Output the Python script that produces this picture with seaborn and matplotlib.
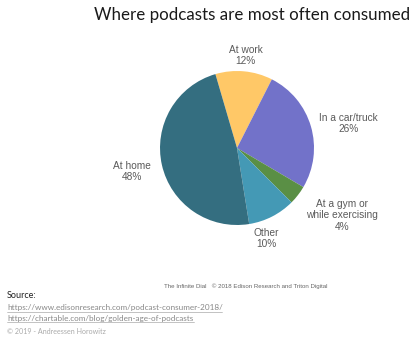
import numpy as np
import matplotlib
matplotlib.use("Agg")
import matplotlib.pyplot as plt
import seaborn as sns

categories = ["At work", "In a car/truck", "At a gym or\nwhile exercising", "Other", "At home"]
values = [12, 26, 4, 10, 48]
colors = ["#FFC867", "#7272C9", "#5A8F45", "#4499B5", "#346E80"]
label_dist = [1.21, 1.48, 1.62, 1.24, 1.40]
label_shift = [0, -4, 5, -9, 0]  # angular tweak in degrees

sns.set_theme(style="white")
plt.rcParams['font.family'] = ['Liberation Sans', 'DejaVu Sans']

fig = plt.figure(figsize=(4.19, 3.43), dpi=100)
fig.patch.set_facecolor("white")

ax = fig.add_axes([0.3819, 0.344, 0.3675, 0.449])
wedges, _ = ax.pie(values, colors=colors, startangle=106.3, counterclock=False,
                   wedgeprops=dict(linewidth=0), radius=1.0)
ax.set_xlim(-1, 1)
ax.set_ylim(-1, 1)
ax.set_aspect("equal")
ax.axis("off")

for w, cat, v, d, s in zip(wedges, categories, values, label_dist, label_shift):
    th = np.deg2rad((w.theta1 + w.theta2) / 2 + s)
    ax.text(d * np.cos(th), d * np.sin(th), f"{cat}\n{v}%", ha="center", va="center",
            fontsize=7.3, color="#5a5a5a", linespacing=1.15, clip_on=False)

fig.text(0.978, 0.957, "Where podcasts are most often consumed", ha="right", va="center",
         fontsize=12.2, color="#1a1a1a", family=["Lato", "DejaVu Sans"])

fig.text(0.586, (343 - 286) / 343, "The Infinite Dial   \u00a9 2018 Edison Research and Triton Digital",
         ha="center", va="center", fontsize=4.4, color="#666666")
fig.text(0.017, (343 - 296) / 343, "Source:", ha="left", va="center", fontsize=6.5,
         color="#222222", family=["Lato", "DejaVu Sans"])
for yy, link in [(307.5, "https://www.edisonresearch.com/podcast-consumer-2018/"),
                 (318, "https://chartable.com/blog/golden-age-of-podcasts")]:
    t = fig.text(0.017, (343 - yy) / 343, link, ha="left", va="center", fontsize=5.85,
                 color="#888888", family=["Lato", "DejaVu Sans"])
    t.set_url(link)
fig.text(0.017, (343 - 331) / 343, "\u00a9 2019 - Andreessen Horowitz", ha="left", va="center",
         fontsize=5.1, color="#aaaaaa", family=["Lato", "DejaVu Sans"])

# underlines for links
fig.add_artist(plt.Line2D([0.017, 0.530], [(343 - 311.5) / 343] * 2, color="#aaaaaa", lw=0.5))
fig.add_artist(plt.Line2D([0.017, 0.463], [(343 - 322) / 343] * 2, color="#aaaaaa", lw=0.5))

fig.savefig("out.png", dpi=100, facecolor="white")
